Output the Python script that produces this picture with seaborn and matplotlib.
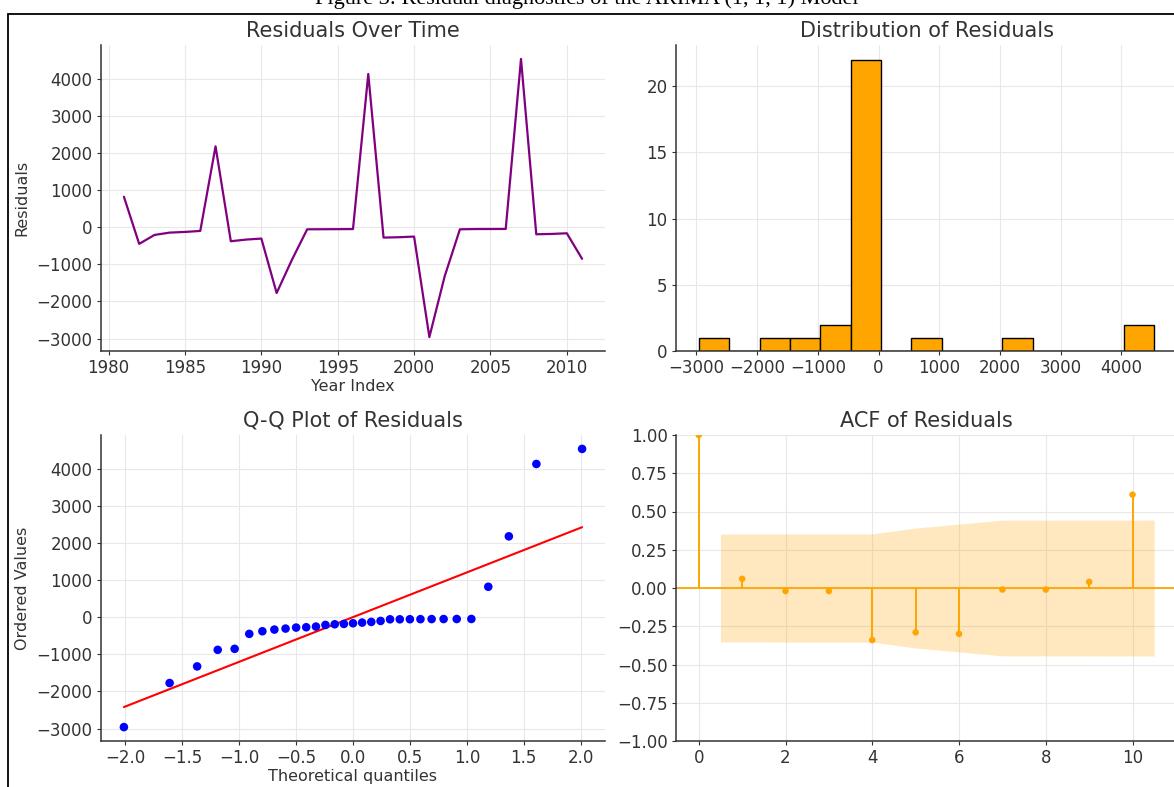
import numpy as np
import pandas as pd
import matplotlib
matplotlib.use("Agg")
import matplotlib.pyplot as plt
import seaborn as sns
from statistics import NormalDist
from matplotlib.patches import Rectangle

# ---------------- data ----------------
years = list(range(1981, 2012))
residuals = [823, -447, -206, -143, -125, -98, 2183, -376, -331, -304,
             -1772, -877, -54, -52, -50, -48, 4134, -277, -268, -250,
             -2960, -1324, -54, -47, -46, -45, 4540, -188, -179, -161, -850]
acf_lags = list(range(0, 11))
acf_values = [1.0, 0.06, -0.02, -0.02, -0.34, -0.29, -0.30, -0.01, -0.01, 0.04, 0.61]

caption = "Figure 3: Residual diagnostics of the ARIMA (1, 1, 1) Model"
title_ts = "Residuals Over Time"
title_hist = "Distribution of Residuals"
title_qq = "Q-Q Plot of Residuals"
title_acf = "ACF of Residuals"

# ---------------- style ----------------
sns.set_theme(style="whitegrid")
plt.rcParams.update({
    "font.family": ["DejaVu Sans"],
    "axes.edgecolor": "#333333",
    "axes.linewidth": 1.1,
    "grid.color": "#e8e8e8",
    "grid.linewidth": 0.8,
    "text.color": "#333333",
    "axes.labelcolor": "#333333",
    "xtick.color": "#333333",
    "ytick.color": "#333333",
    "xtick.bottom": True,
    "ytick.left": True,
    "xtick.major.size": 3,
    "ytick.major.size": 3,
    "xtick.major.width": 0.8,
    "ytick.major.width": 0.8,
    "xtick.labelsize": 12,
    "ytick.labelsize": 12,
    "axes.labelsize": 11.5,
    "axes.titlesize": 15,
    "axes.unicode_minus": True,
})

W, H = 1174, 787
fig = plt.figure(figsize=(W / 100, H / 100), dpi=100)
fig.patch.set_facecolor("white")


def add_ax(l, r, t, b):
    return fig.add_axes([l / W, 1 - b / H, (r - l) / W, (b - t) / H])


ax_ts = add_ax(101, 605, 45, 351)
ax_hist = add_ax(676, 1177, 45, 351)
ax_qq = add_ax(101, 605, 435, 741)
ax_acf = add_ax(676, 1177, 435, 741)

# ---- Residuals over time ----
df = pd.DataFrame({"Year": years, "Residual": residuals})
sns.lineplot(data=df, x="Year", y="Residual", ax=ax_ts, color="purple", linewidth=1.6)
ax_ts.set_title(title_ts)
ax_ts.set_xlabel("Year Index", labelpad=1)
ax_ts.set_ylabel("Residuals", labelpad=5)
ax_ts.set_xticks([1980, 1985, 1990, 1995, 2000, 2005, 2010])
ax_ts.set_yticks([-3000, -2000, -1000, 0, 1000, 2000, 3000, 4000])

# ---- Histogram ----
sns.histplot(data=df, x="Residual", bins=15, ax=ax_hist, color="orange",
             edgecolor="black", linewidth=1.0, alpha=1.0)
ax_hist.set_title(title_hist)
ax_hist.set_xlabel("")
ax_hist.set_ylabel("")
ax_hist.set_xticks([-3000, -2000, -1000, 0, 1000, 2000, 3000, 4000])
ax_hist.set_yticks([0, 5, 10, 15, 20])

# ---- Q-Q plot ----
n = len(residuals)
nd = NormalDist()
probs = []
for i in range(1, n + 1):
    if i == 1:
        p = 1 - 0.5 ** (1 / n)
    elif i == n:
        p = 0.5 ** (1 / n)
    else:
        p = (i - 0.3175) / (n + 0.365)
    probs.append(p)
osm = np.array([nd.inv_cdf(p) for p in probs])
osr = np.sort(np.array(residuals, dtype=float))
slope, intercept = np.polyfit(osm, osr, 1)
qq = pd.DataFrame({"q": osm, "v": osr, "fit": slope * osm + intercept})
sns.scatterplot(data=qq, x="q", y="v", ax=ax_qq, color="blue", s=38,
                edgecolor="none", zorder=3)
sns.lineplot(data=qq, x="q", y="fit", ax=ax_qq, color="red", linewidth=1.5, zorder=2)
ax_qq.set_title(title_qq)
ax_qq.set_xlabel("Theoretical quantiles", labelpad=1)
ax_qq.set_ylabel("Ordered Values", labelpad=5)
ax_qq.set_xticks([-2.0, -1.5, -1.0, -0.5, 0.0, 0.5, 1.0, 1.5, 2.0])
ax_qq.set_yticks([-3000, -2000, -1000, 0, 1000, 2000, 3000, 4000])

# ---- ACF ----
acf_arr = np.array(acf_values)
varacf = np.ones(len(acf_arr)) / n
varacf[0] = 0
varacf[1] = 1.0 / n
varacf[2:] *= 1 + 2 * np.cumsum(acf_arr[1:-1] ** 2)
conf = nd.inv_cdf(0.975) * np.sqrt(varacf)
band_x = np.array(acf_lags[1:], dtype=float)
band_x[0] -= 0.5
band_x[-1] += 0.5
ax_acf.fill_between(band_x, -conf[1:], conf[1:], color="orange", alpha=0.25,
                    linewidth=0, zorder=1)
ax_acf.axhline(0, color="orange", linewidth=1.3, zorder=2)
ax_acf.vlines(acf_lags, 0, acf_values, color="orange", linewidth=1.4, zorder=3)
acf_df = pd.DataFrame({"lag": acf_lags, "acf": acf_values})
sns.scatterplot(data=acf_df, x="lag", y="acf", ax=ax_acf, color="orange", s=22,
                edgecolor="none", zorder=4)
ax_acf.set_ylim(-1, 1)
ax_acf.set_title(title_acf)
ax_acf.set_xlabel("")
ax_acf.set_ylabel("")
ax_acf.set_xticks([0, 2, 4, 6, 8, 10])
ax_acf.set_yticks([-1.0, -0.75, -0.5, -0.25, 0.0, 0.25, 0.5, 0.75, 1.0])
ax_acf.yaxis.set_major_formatter(
    matplotlib.ticker.FuncFormatter(lambda v, pos: f"{v:.2f}".replace("-", "\u2212")))

for ax in (ax_ts, ax_hist, ax_qq, ax_acf):
    sns.despine(ax=ax)
    ax.set_axisbelow(True)
    ax.tick_params(direction="out", pad=3)

# ---- document frame & cropped caption (cut at the top, as in the reference) ----
fig.patches.append(Rectangle((8 / W, -0.05), 1.2, 1 - 14 / H + 0.05,
                             transform=fig.transFigure, fill=False,
                             edgecolor="black", linewidth=1.3))
fig.text(0.5, 1 - 4 / H, caption, ha="center", va="baseline", fontsize=16,
         family=["Liberation Serif", "DejaVu Serif"], color="black")

fig.savefig("out.png", dpi=100)
